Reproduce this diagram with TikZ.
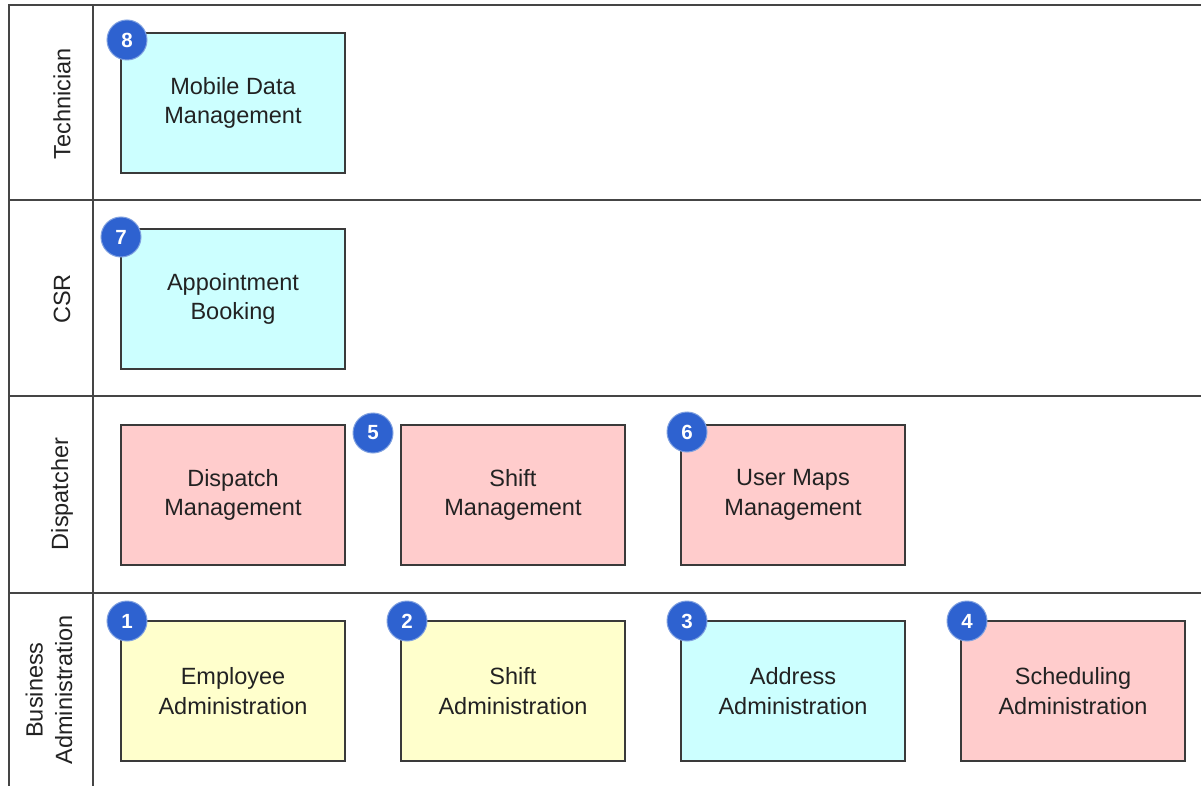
\documentclass[tikz,border=0pt]{standalone}
\usepackage{fontspec}
\setmainfont{Liberation Sans}
\definecolor{cyanfill}{HTML}{CCFFFF}
\definecolor{pinkfill}{HTML}{FFCCCC}
\definecolor{yellowfill}{HTML}{FFFFCC}
\definecolor{badgeblue}{HTML}{2E62D0}
\definecolor{badgeedge}{HTML}{7FA0E0}
\definecolor{laneline}{HTML}{454545}
\definecolor{boxedge}{HTML}{3A3A3A}
\definecolor{txt}{HTML}{222222}
\tikzset{
  lanerule/.style={draw=laneline, line width=2.2pt},
  task/.style={draw=boxedge, line width=1.5pt, minimum width=224pt, minimum height=140pt,
    inner sep=0pt, align=center, text=txt, font=\fontsize{23.5}{29.5}\selectfont},
  badge/.style={circle, fill=badgeblue, draw=badgeedge, line width=1pt, minimum size=40pt,
    inner sep=0pt, text=white, font=\fontsize{20.5}{20.5}\selectfont\bfseries},
  lanelabel/.style={rotate=90, align=center, text=txt, font=\fontsize{23.5}{29.5}\selectfont}
}
\begin{document}
\begin{tikzpicture}[x=1pt,y=-1pt]
\useasboundingbox (0,0) rectangle (1201,786);
\fill[white] (0,0) rectangle (1201,786);
% lanes
\draw[lanerule] (9,790) -- (9,5) -- (1201,5);
\draw[lanerule] (93,5) -- (93,790);
\draw[lanerule] (9,200) -- (1201,200);
\draw[lanerule] (9,396) -- (1201,396);
\draw[lanerule] (9,593) -- (1201,593);
% lane labels
\node[lanelabel] (lT) at (62,104) {Technician};
\node[lanelabel] (lC) at (62,299) {CSR};
\node[lanelabel] (lD) at (62,494) {Dispatcher};
\node[lanelabel] (lB) at (49,690) {Business\\Administration};
% tasks
\node[task, fill=cyanfill] (mdm) at (233,103) {Mobile Data\\Management};
\node[task, fill=cyanfill] (ab) at (233,299) {Appointment\\Booking};
\node[task, fill=pinkfill] (dm) at (233,495) {Dispatch\\Management};
\node[task, fill=pinkfill] (sm) at (513,495) {Shift\\Management};
\node[task, fill=pinkfill] (umm) at (793,495) {User Maps\\Management};
\node[task, fill=yellowfill] (ea) at (233,691) {Employee\\Administration};
\node[task, fill=yellowfill] (sa) at (513,691) {Shift\\Administration};
\node[task, fill=cyanfill] (aa) at (793,691) {Address\\Administration};
\node[task, fill=pinkfill] (sca) at (1073,691) {Scheduling\\Administration};
% badges
\node[badge] (b8) at (127,40) {8};
\node[badge] (b7) at (121,237) {7};
\node[badge] (b5) at (373,433) {5};
\node[badge] (b6) at (687,432) {6};
\node[badge] (b1) at (127,621) {1};
\node[badge] (b2) at (407,621) {2};
\node[badge] (b3) at (687,621) {3};
\node[badge] (b4) at (967,621) {4};
\end{tikzpicture}
\end{document}
